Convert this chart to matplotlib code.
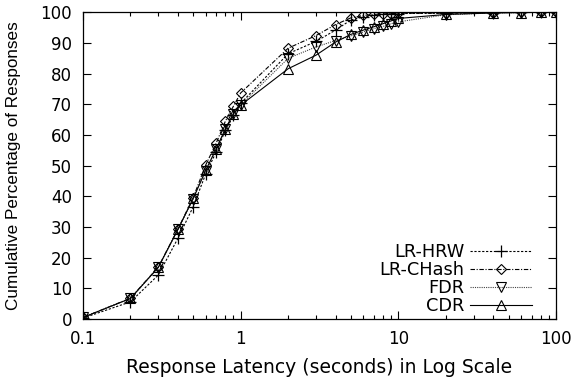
import matplotlib
matplotlib.use('Agg')
import matplotlib.pyplot as plt
from matplotlib.ticker import LogLocator, NullFormatter, FixedLocator, FixedFormatter

plt.rcParams['font.family'] = ['DejaVu Sans']

# response latency (seconds)
latency = [0.1, 0.2, 0.3, 0.4, 0.5, 0.6, 0.7, 0.8, 0.9, 1, 2, 3, 4, 5, 6, 7, 8, 9, 10, 20, 40, 60, 80, 100]

lr_hrw = [0.3, 5.6, 14.3, 26.3, 36.6, 47.3, 54.5, 61.5, 66.5, 70.3, 86.5, 90.5, 94.2, 97.5, 98.5, 99.0, 99.3, 99.5, 99.6, 99.7, 99.9, 100, 100, 100]
lr_chash = [0.5, 6.8, 16.9, 29.3, 39.6, 50.2, 57.4, 64.5, 69.4, 73.7, 88.3, 92.4, 96.0, 98.2, 99.0, 99.3, 99.5, 99.6, 99.7, 99.7, 99.9, 100, 100, 100]
fdr = [0.5, 6.7, 16.8, 29.2, 39.2, 48.3, 55.4, 62.0, 66.8, 69.8, 85.0, 88.7, 90.8, 92.3, 93.6, 94.7, 95.4, 96.3, 96.9, 99.2, 99.8, 99.9, 100, 100]
cdr = [0.5, 6.7, 16.8, 29.2, 39.3, 48.5, 55.5, 62.0, 67.0, 69.7, 81.6, 86.0, 90.3, 92.8, 94.2, 95.3, 96.3, 97.2, 98.0, 99.3, 99.8, 99.9, 100, 100]

xticks = [0.1, 1, 10, 100]
xticklabels = ['0.1', '1', '10', '100']
yticks = list(range(0, 101, 10))

fig = plt.figure(figsize=(5.74, 3.79), dpi=100)
ax = fig.add_axes([0.1446, 0.1583, 0.824, 0.8092])

ax.plot(latency, lr_hrw, color='black', lw=0.8, linestyle=(0, (2, 1.5)),
        marker='+', markersize=8, markeredgewidth=0.9, label='LR-HRW')
ax.plot(latency, lr_chash, color='black', lw=0.8, linestyle=(0, (4, 1.5, 1, 1.5)),
        marker='D', markersize=5.5, markerfacecolor='none', markeredgewidth=0.8, label='LR-CHash')
ax.plot(latency, fdr, color='#444444', lw=0.8, linestyle=(0, (1, 1)),
        marker='v', markersize=7, markerfacecolor='none', markeredgecolor='black',
        markeredgewidth=0.8, label='FDR')
ax.plot(latency, cdr, color='black', lw=0.8, linestyle='-',
        marker='^', markersize=7, markerfacecolor='none', markeredgewidth=0.8, label='CDR')

ax.set_xscale('log')
ax.set_xlim(0.1, 100)
ax.set_ylim(0, 100)
ax.xaxis.set_major_locator(FixedLocator(xticks))
ax.xaxis.set_major_formatter(FixedFormatter(xticklabels))
ax.xaxis.set_minor_locator(LogLocator(base=10, subs=range(2, 10)))
ax.xaxis.set_minor_formatter(NullFormatter())
ax.set_yticks(yticks)

ax.tick_params(which='major', direction='in', length=6, width=0.8,
               top=True, right=True, labelsize=12)
ax.tick_params(axis='y', pad=8)
ax.tick_params(axis='x', pad=8)
ax.tick_params(which='minor', direction='in', length=3, width=0.8, top=True, right=True)
for s in ax.spines.values():
    s.set_linewidth(0.9)

ax.set_xlabel('Response Latency (seconds) in Log Scale', fontsize=13.5, labelpad=7)
ax.set_ylabel('Cumulative Percentage of Responses', fontsize=12.3,
              family=['Liberation Sans', 'DejaVu Sans'], labelpad=14)

leg = ax.legend(loc='lower right', bbox_to_anchor=(0.949, 0.012),
                markerfirst=False, frameon=False, fontsize=12.8,
                handlelength=3.5, handletextpad=0.3, labelspacing=0.0,
                borderaxespad=0, borderpad=0)

fig.savefig('out.png', dpi=100)
